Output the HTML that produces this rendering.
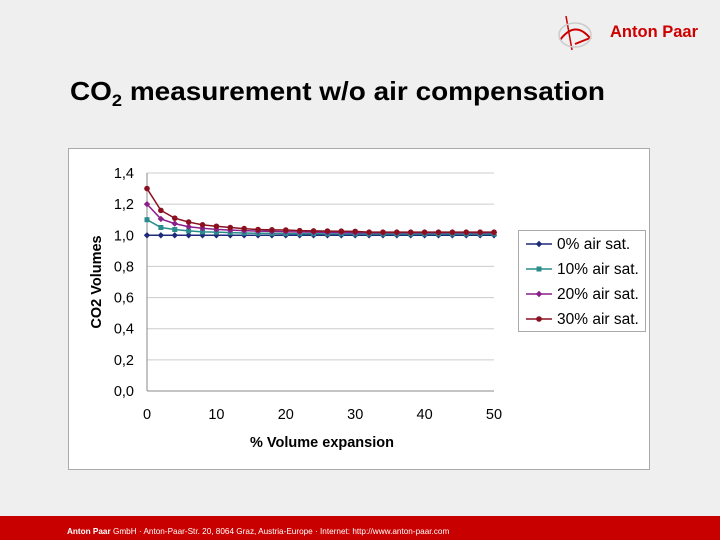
<!DOCTYPE html>
<html><head><meta charset="utf-8"><style>
body{margin:0;width:720px;height:540px;background:#efefef;font-family:"Liberation Sans",sans-serif;position:relative;overflow:hidden}
</style></head><body>
<svg width="720" height="540" style="position:absolute;left:0;top:0">
<g>
<path d="M560 40 Q575 20 590 38 L575 44" fill="none" stroke="#c00" stroke-width="2"/>
<path d="M566 16 L572 50" stroke="#c00" stroke-width="1.5"/>
<ellipse cx="575" cy="35" rx="16" ry="12" fill="none" stroke="#ccc" stroke-width="1.5"/>
<text x="610" y="37" font-size="16.5" font-weight="bold" fill="#c00">Anton Paar</text>
</g>
<text x="70" y="100" font-size="26" font-weight="bold" fill="#000" textLength="535" lengthAdjust="spacingAndGlyphs">CO<tspan font-size="17" dy="6">2</tspan><tspan dy="-6"> measurement w/o air compensation</tspan></text>
<rect x="68.5" y="148.5" width="581" height="321" fill="#fff" stroke="#aaa"/>
<g id="plot"></g>
<text x="322" y="447" font-size="14.5" font-weight="bold" text-anchor="middle">% Volume expansion</text>
<text transform="translate(101,282) rotate(-90)" font-size="14.5" font-weight="bold" text-anchor="middle">CO2 Volumes</text>
<rect x="518.5" y="230.5" width="127" height="101" fill="#fff" stroke="#aaa"/>
<g id="legend"></g>
<rect x="0" y="516" width="720" height="24" fill="#c80000"/>
<text x="67" y="534" font-size="8.2" fill="#fff"><tspan font-weight="bold">Anton Paar</tspan> GmbH · Anton-Paar-Str. 20, 8064 Graz, Austria-Europe · Internet: http://www.anton-paar.com</text>
</svg>
<script>
const xValues=[0,2,4,6,8,10,12,14,16,18,20,22,24,26,28,30,32,34,36,38,40,42,44,46,48,50];
const s0=[1,1,1,1,1,1,1,1,1,1,1,1,1,1,1,1,1,1,1,1,1,1,1,1,1,1];
const s10=[1.1,1.05,1.037,1.028,1.022,1.02,1.017,1.015,1.013,1.012,1.011,1.01,1.01,1.009,1.009,1.008,1.008,1.008,1.008,1.008,1.008,1.008,1.008,1.008,1.008,1.008];
const s20=[1.2,1.105,1.075,1.055,1.045,1.038,1.033,1.03,1.027,1.025,1.023,1.021,1.02,1.019,1.018,1.016,1.016,1.016,1.016,1.016,1.016,1.016,1.016,1.016,1.016,1.016];
const s30=[1.3,1.16,1.11,1.085,1.067,1.058,1.05,1.043,1.037,1.035,1.034,1.03,1.028,1.027,1.026,1.025,1.02,1.02,1.02,1.02,1.02,1.02,1.02,1.02,1.02,1.02];
const yTicks=[0,0.2,0.4,0.6,0.8,1.0,1.2,1.4];
const xTicks=[0,10,20,30,40,50];
const seriesNames=["0% air sat.","10% air sat.","20% air sat.","30% air sat."];
const colors=["#1f2a7a","#2a8c8c","#8a1f8a","#8a1020"];
const NS="http://www.w3.org/2000/svg";
const X=v=>147+v/50*347, Y=v=>391-v/1.4*218;
const g=document.getElementById('plot');
function mk(t,a,p){const e=document.createElementNS(NS,t);for(const k in a)e.setAttribute(k,a[k]);(p||g).appendChild(e);return e;}
yTicks.forEach(t=>{
 const l=mk('line',{x1:147,x2:494,y1:Y(t),y2:Y(t),stroke:t===0?'#888':'#ccc'});
 
 
 const tx=mk('text',{x:134,y:Y(t)+5,'font-size':14.5,'text-anchor':'end'});tx.textContent=t.toFixed(1).replace('.',',');
 
 
});
const ax=mk('line',{x1:147,x2:147,y1:Y(1.4),y2:Y(0),stroke:'#888'});


xTicks.forEach(t=>{
 const tx=mk('text',{x:X(t),y:419,'font-size':14.5,'text-anchor':'middle'});tx.textContent=t;
 
 
});
function marker(i,x,y,p){
 let e;
 if(i===1) e=mk('rect',{x:x-2.5,y:y-2.5,width:5,height:5,fill:colors[i]},p);
 else if(i===3) e=mk('circle',{cx:x,cy:y,r:2.8,fill:colors[i]},p);
 else e=mk('path',{d:`M${x-3.2} ${y}L${x} ${y-3.2}L${x+3.2} ${y}L${x} ${y+3.2}Z`,fill:colors[i]},p);
 return e;
}
[s0,s10,s20,s30].forEach((s,i)=>{
 const pl=mk('polyline',{points:s.map((v,j)=>X(xValues[j])+','+Y(v)).join(' '),fill:'none',stroke:colors[i],'stroke-width':1.5});
 
 
 s.forEach((v,j)=>{const m=marker(i,X(xValues[j]),Y(v));
  
  });
});
const lg=document.getElementById('legend');
seriesNames.forEach((n,i)=>{
 const y=244+i*25;
 const l=mk('line',{x1:526,x2:552,y1:y,y2:y,stroke:colors[i],'stroke-width':1.5},lg);
 
 
 marker(i,539,y,lg);
 const t=mk('text',{x:557,y:y+5,'font-size':15.5},lg);t.textContent=n;
 
 
});
</script>
</body></html>
